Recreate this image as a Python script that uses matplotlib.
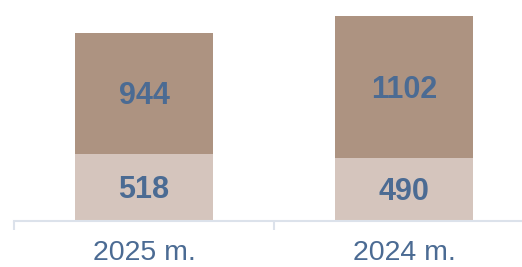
import matplotlib.pyplot as plt
import numpy as np

categories = ["2025 m.", "2024 m."]
bottom_vals = [518, 490]
top_vals = [944, 1102]

BOTTOM_COLOR = "#d5c5bd"
TOP_COLOR = "#ad9381"
TEXT_COLOR = "#4b6b93"
AXIS_COLOR = "#dce2eb"

plt.rcParams["font.family"] = ["Liberation Sans", "DejaVu Sans"]

W, H = 522, 267
fig = plt.figure(figsize=(W / 100, H / 100), dpi=100)
ax = fig.add_axes([14 / W, 46.5 / H, 520 / W, 220.5 / H])

x = np.arange(len(categories))
bw = 0.527
ax.bar(x, bottom_vals, bw, color=BOTTOM_COLOR)
ax.bar(x, top_vals, bw, bottom=bottom_vals, color=TOP_COLOR)

# value labels, nudged down a little so the digits sit in the middle
for i in range(len(categories)):
    ax.annotate(f"{bottom_vals[i]}", (x[i], bottom_vals[i] / 2), xytext=(0, -2),
                textcoords="offset points", ha="center", va="center",
                fontsize=22, fontweight="bold", color=TEXT_COLOR)
    ax.annotate(f"{top_vals[i]}", (x[i], bottom_vals[i] + top_vals[i] / 2), xytext=(0, -2),
                textcoords="offset points", ha="center", va="center",
                fontsize=22, fontweight="bold", color=TEXT_COLOR)

ax.set_xlim(-0.5, len(categories) - 0.5)
ax.set_ylim(0, 1716)
for s in ["top", "right", "left"]:
    ax.spines[s].set_visible(False)
ax.spines["bottom"].set_color(AXIS_COLOR)
ax.spines["bottom"].set_linewidth(1.5)
ax.set_yticks([])

ax.set_xticks(x)
ax.set_xticklabels(categories, fontsize=20.5, color=TEXT_COLOR)
ax.tick_params(axis="x", which="major", length=0, pad=14)
ax.set_xticks(np.arange(-0.5, len(categories)), minor=True)
ax.tick_params(axis="x", which="minor", length=6.5, width=1.5, color=AXIS_COLOR)

fig.savefig("out.png", dpi=100)
